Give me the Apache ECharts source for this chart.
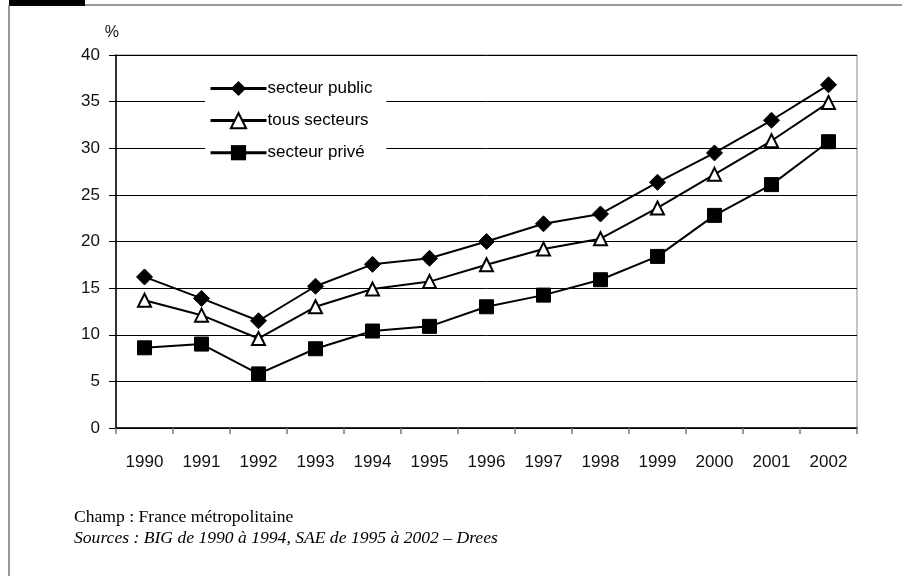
<!DOCTYPE html>
<html><head><meta charset="utf-8">
<script src="https://cdn.jsdelivr.net/npm/echarts@6/dist/echarts.min.js"></script>
<style>html,body{margin:0;padding:0;background:#fff}#c{width:902px;height:576px}</style>
</head><body><div id="c"></div>
<script>
const years = ['1990','1991','1992','1993','1994','1995','1996','1997','1998','1999','2000','2001','2002'];
const publicSector = [16.2, 13.9, 11.5, 15.2, 17.55, 18.2, 20.0, 21.9, 22.95, 26.35, 29.5, 33.0, 36.8];
const allSectors = [13.7, 12.1, 9.6, 13.0, 14.9, 15.7, 17.5, 19.2, 20.3, 23.6, 27.2, 30.8, 34.9];
const privateSector = [8.6, 9.0, 5.8, 8.5, 10.4, 10.9, 13.0, 14.25, 15.9, 18.4, 22.8, 26.1, 30.7];
const seriesNames = ['secteur public', 'tous secteurs', 'secteur privé'];
const footer1 = 'Champ : France métropolitaine';
const footer2 = 'Sources : BIG de 1990 à 1994, SAE de 1995 à 2002 – Drees';

const FONT = '"Liberation Sans Narrow", "Arial Narrow", "Liberation Sans", sans-serif';
const chart = echarts.init(document.getElementById('c'), null, {renderer: 'canvas'});
const lineStyle = {color: '#000', width: 2};
chart.setOption({
  animation: false,
  backgroundColor: '#fff',
  grid: {left: 116, right: 45, top: 55, bottom: 148, show: true, borderColor: '#888', borderWidth: 1, backgroundColor: 'transparent'},
  legend: {
    left: 205, top: 74, orient: 'vertical', backgroundColor: '#fff',
    padding: [6, 14, 6, 4], itemGap: 15, itemWidth: 56, itemHeight: 19,
    lineStyle: {width: 3, color: '#000'},
    textStyle: {fontFamily: FONT, fontSize: 17, color: '#000', padding: [0, 0, 0, -4]},
    data: seriesNames
  },
  xAxis: {
    type: 'category', data: years, boundaryGap: true,
    axisLine: {lineStyle: {color: '#000', width: 1.5}},
    axisTick: {show: true, length: 6, lineStyle: {color: '#777', width: 1.5}},
    axisLabel: {color: '#111', fontFamily: FONT, fontSize: 17, margin: 26},
    splitLine: {show: false}
  },
  yAxis: {
    type: 'value', min: 0, max: 40, interval: 5,
    name: '%', nameLocation: 'end', nameGap: 14,
    nameTextStyle: {color: '#111', fontFamily: FONT, fontSize: 16, align: 'right', padding: [0, -3, 0, 0]},
    axisLine: {show: true, lineStyle: {color: '#000', width: 1.5}},
    axisTick: {show: true, length: 7, lineStyle: {color: '#000'}},
    axisLabel: {color: '#111', fontFamily: FONT, fontSize: 17, margin: 16},
    splitLine: {show: true, lineStyle: {color: '#000', width: 1}}
  },
  series: [
    {name: seriesNames[0], type: 'line', data: publicSector, symbol: 'diamond', symbolSize: 16,
     lineStyle: lineStyle, itemStyle: {color: '#000', borderColor: '#000'}, z: 3},
    {name: seriesNames[1], type: 'line', data: allSectors, symbol: 'triangle', symbolSize: 13,
     lineStyle: lineStyle, itemStyle: {color: '#fff', borderColor: '#000', borderWidth: 2}, z: 4},
    {name: seriesNames[2], type: 'line', data: privateSector, symbol: 'rect', symbolSize: 14,
     lineStyle: lineStyle, itemStyle: {color: '#000', borderColor: '#000'}, z: 3}
  ],
  graphic: [
    {type: 'rect', shape: {x: 9, y: 0, width: 76, height: 6}, style: {fill: '#000'}},
    {type: 'line', shape: {x1: 85, y1: 5, x2: 902, y2: 5}, style: {stroke: '#777', lineWidth: 1.5}},
    {type: 'line', shape: {x1: 9, y1: 5, x2: 9, y2: 576}, style: {stroke: '#777', lineWidth: 1.5}},
    {type: 'text', left: 74, top: 508, style: {text: footer1, font: '17.6px "Liberation Serif", serif', fill: '#000'}},
    {type: 'text', left: 74, top: 529, style: {text: footer2, font: 'italic 17.6px "Liberation Serif", serif', fill: '#000'}}
  ]
});
</script></body></html>
